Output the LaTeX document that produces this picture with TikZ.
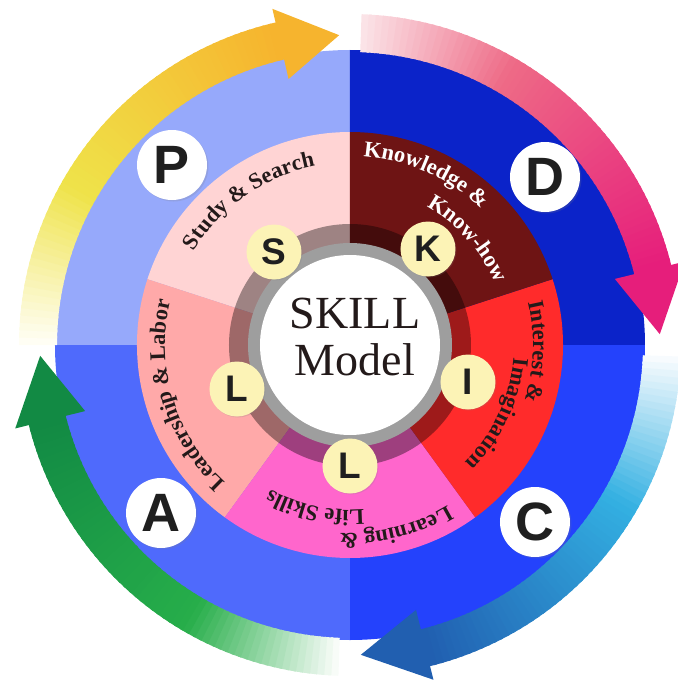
\documentclass[tikz,border=0pt]{standalone}
\usepackage{fontspec}
\setmainfont{Liberation Serif}
\newfontfamily\lettersans{Liberation Sans}
\newfontfamily\labelserif{Liberation Serif}
\usetikzlibrary{decorations.text,shadows}

\definecolor{quadP}{HTML}{96A9FB}
\definecolor{quadD}{HTML}{0B23C9}
\definecolor{quadC}{HTML}{2442FC}
\definecolor{quadA}{HTML}{4F6AFC}
\definecolor{secStudy}{HTML}{FFD4D4}
\definecolor{secLead}{HTML}{FFA9A9}
\definecolor{secLearn}{HTML}{FF66CC}
\definecolor{secInter}{HTML}{FF2B2B}
\definecolor{secKnow}{HTML}{6E1414}
\definecolor{ringgray}{HTML}{9E9E9E}
\definecolor{cream}{HTML}{FCF3B6}
\definecolor{ink}{HTML}{231A1A}
\definecolor{yelT}{HTML}{FFFEF4}
\definecolor{yelM}{HTML}{EFE34A}
\definecolor{yelH}{HTML}{F6B42E}
\definecolor{pinkT}{HTML}{FBE3E7}
\definecolor{pinkM}{HTML}{EE6A86}
\definecolor{pinkH}{HTML}{E61E7B}
\definecolor{cyanT}{HTML}{F7FBFE}
\definecolor{cyanM}{HTML}{33B0E2}
\definecolor{cyanH}{HTML}{215FB0}
\definecolor{grnT}{HTML}{F8FCF8}
\definecolor{grnM}{HTML}{27AE4A}
\definecolor{grnH}{HTML}{128A44}

% tail angle, head angle, tip angle, tail / middle / head colour
\newcommand{\cyclearrow}[6]{%
  \foreach \k in {0,...,59}{%
    \pgfmathsetmacro\angA{#1-(#1-(#2))*\k/60}%
    \pgfmathsetmacro\angB{#1-(#1-(#2))*(\k+1)/60-0.5}%
    \pgfmathsetmacro\mixA{min(100,\k*100/(59*0.38))}%
    \pgfmathsetmacro\mixB{max(0,(\k/59-0.38)*100/0.62)}%
    \colorlet{slicea}{#5!\mixA!#4}%
    \colorlet{sliceb}{#6!\mixB!slicea}%
    \fill[sliceb] (\angA:293) arc[start angle=\angA, end angle=\angB, radius=293]
      -- (\angB:331) arc[start angle=\angB, end angle=\angA, radius=331] -- cycle;
  }%
  \fill[#6] (#2:273) -- (#2:345) -- (#3:310) -- cycle;
}

\tikzset{
  outerdot/.style={circle, fill=white, minimum size=70pt, inner sep=0pt,
    drop shadow={shadow xshift=1.5pt, shadow yshift=-1.5pt, opacity=0.2},
    font=\lettersans\bfseries\fontsize{54}{54}\selectfont, text=black!88},
  innerdot/.style={circle, fill=cream, minimum size=55pt, inner sep=0pt,
    drop shadow={shadow xshift=1pt, shadow yshift=-1pt, opacity=0.2},
    font=\lettersans\bfseries\fontsize{37}{37}\selectfont, text=black!88},
  centretitle/.style={anchor=base, font=\fontsize{46}{46}\selectfont, text=ink},
  arcword/.style={decorate, decoration={text along path, text align=center,
    text={|\labelserif\bfseries\fontsize{22.5}{22.5}\selectfont\color{ink}|#1}}},
  arcwordw/.style={decorate, decoration={text along path, text align=center,
    text={|\labelserif\bfseries\fontsize{22.5}{22.5}\selectfont\color{white}|#1}}}
}

\begin{document}
\begin{tikzpicture}[x=1pt, y=1pt]
\useasboundingbox (-350,-336) rectangle (328,345);
% blue quadrants
\fill[quadP] (0,0) -- (90:295) arc[start angle=90, end angle=180, radius=295] -- cycle;
\fill[quadD] (0,0) -- (0:295) arc[start angle=0, end angle=90, radius=295] -- cycle;
\fill[quadC] (0,0) -- (270:295) arc[start angle=270, end angle=360, radius=295] -- cycle;
\fill[quadA] (0,0) -- (180:295) arc[start angle=180, end angle=270, radius=295] -- cycle;
% cycle arrows
\cyclearrow{180}{103}{92}{yelT}{yelM}{yelH}
\cyclearrow{88}{14}{2}{pinkT}{pinkM}{pinkH}
\cyclearrow{-2}{-76}{-88}{cyanT}{cyanM}{cyanH}
\cyclearrow{268}{194}{182}{grnT}{grnM}{grnH}
% five sectors
\fill[secStudy] (0,0) -- (90:213) arc[start angle=90, end angle=162, radius=213] -- cycle;
\fill[secLead] (0,0) -- (162:213) arc[start angle=162, end angle=234, radius=213] -- cycle;
\fill[secLearn] (0,0) -- (234:213) arc[start angle=234, end angle=306, radius=213] -- cycle;
\fill[secInter] (0,0) -- (306:213) arc[start angle=306, end angle=378, radius=213] -- cycle;
\fill[secKnow] (0,0) -- (18:213) arc[start angle=18, end angle=90, radius=213] -- cycle;
\fill[black, opacity=0.38] (0,0) circle[radius=121];
\fill[ringgray] (0,0) circle[radius=102];
\fill[white] (0,0) circle[radius=90];
% centre
\node[centretitle] (skill) at (5,17) {SKILL};
\node[centretitle] (model) at (5,-30) {Model};
% sector labels
\path[arcword={Study {\&} Search}] (170:182) arc[start angle=170, end angle=80, radius=182];
\path[arcwordw={Knowledge {\&}}] (111:189) arc[start angle=111, end angle=21, radius=189];
\path[arcwordw={Know-how}] (87:158) arc[start angle=87, end angle=-3, radius=158];
\path[arcword={Interest {\&}}] (43:183) arc[start angle=43, end angle=-47, radius=183];
\path[arcword={Imagination}] (20:164) arc[start angle=20, end angle=-70, radius=164];
\path[arcword={Learning {\&}}] (329:188) arc[start angle=329, end angle=239, radius=188];
\path[arcword={Life Skills}] (303:165) arc[start angle=303, end angle=213, radius=165];
\path[arcword={Leadership {\&} Labor}] (242:185) arc[start angle=242, end angle=152, radius=185];
% inner letters
\node[innerdot] (s) at (-76,93) {S};
\node[innerdot] (k) at (78,96) {K};
\node[innerdot] (i) at (118,-37) {I};
\node[innerdot] (lb) at (0,-121) {L};
\node[innerdot] (ll) at (-113,-44) {L};
% outer letters
\node[outerdot] (p) at (-178,180) {P};
\node[outerdot] (d) at (195,168) {D};
\node[outerdot] (c) at (185,-177) {C};
\node[outerdot] (a) at (-189,-168) {A};
\end{tikzpicture}
\end{document}
